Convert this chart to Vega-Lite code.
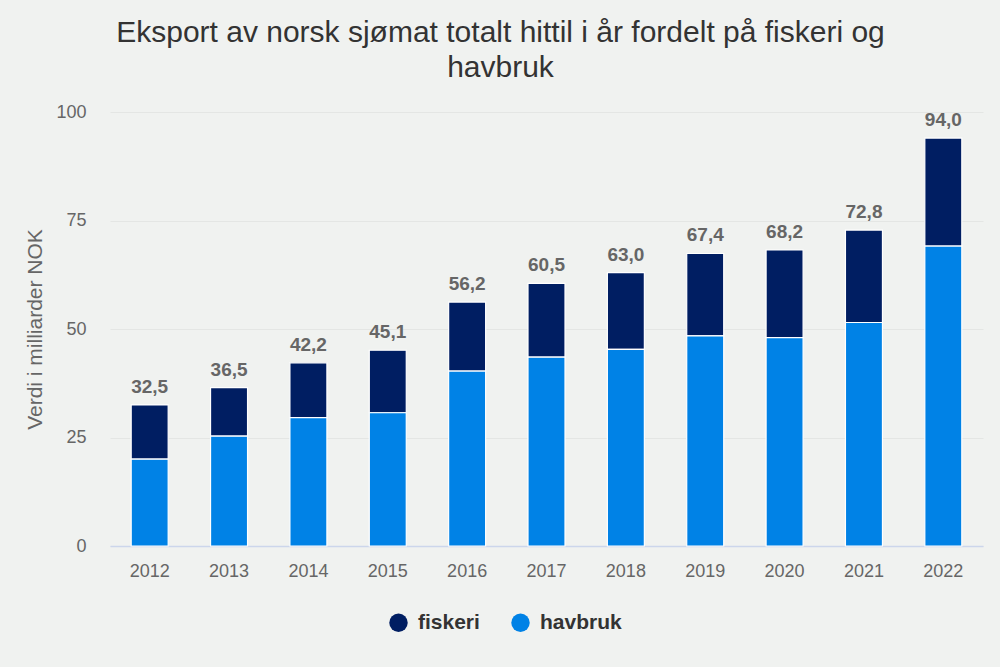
{
  "$schema": "https://vega.github.io/schema/vega-lite/v6.json",
  "autosize": {"type": "none"},
  "width": 873,
  "height": 434,
  "padding": {"left": 110, "top": 112, "right": 17, "bottom": 121},
  "background": "#f0f2f0",
  "title": {
    "text": ["Eksport av norsk sjømat totalt hittil i år fordelt på fiskeri og", "havbruk"],
    "anchor": "middle",
    "dx": -46,
    "offset": 20,
    "font": "Liberation Sans",
    "fontSize": 30,
    "fontWeight": "normal",
    "color": "#333333",
    "lineHeight": 35
  },
  "datasets": {
    "bars": [
      {"year": "2012", "type": "fiskeri", "value": 12.5},
      {"year": "2012", "type": "havbruk", "value": 20.0},
      {"year": "2013", "type": "fiskeri", "value": 11.2},
      {"year": "2013", "type": "havbruk", "value": 25.3},
      {"year": "2014", "type": "fiskeri", "value": 12.6},
      {"year": "2014", "type": "havbruk", "value": 29.6},
      {"year": "2015", "type": "fiskeri", "value": 14.4},
      {"year": "2015", "type": "havbruk", "value": 30.7},
      {"year": "2016", "type": "fiskeri", "value": 15.9},
      {"year": "2016", "type": "havbruk", "value": 40.3},
      {"year": "2017", "type": "fiskeri", "value": 17.0},
      {"year": "2017", "type": "havbruk", "value": 43.5},
      {"year": "2018", "type": "fiskeri", "value": 17.7},
      {"year": "2018", "type": "havbruk", "value": 45.3},
      {"year": "2019", "type": "fiskeri", "value": 19.0},
      {"year": "2019", "type": "havbruk", "value": 48.4},
      {"year": "2020", "type": "fiskeri", "value": 20.2},
      {"year": "2020", "type": "havbruk", "value": 48.0},
      {"year": "2021", "type": "fiskeri", "value": 21.3},
      {"year": "2021", "type": "havbruk", "value": 51.5},
      {"year": "2022", "type": "fiskeri", "value": 24.9},
      {"year": "2022", "type": "havbruk", "value": 69.1}
    ],
    "totals": [
      {"year": "2012", "total": 32.5},
      {"year": "2013", "total": 36.5},
      {"year": "2014", "total": 42.2},
      {"year": "2015", "total": 45.1},
      {"year": "2016", "total": 56.2},
      {"year": "2017", "total": 60.5},
      {"year": "2018", "total": 63.0},
      {"year": "2019", "total": 67.4},
      {"year": "2020", "total": 68.2},
      {"year": "2021", "total": 72.8},
      {"year": "2022", "total": 94.0}
    ]
  },
  "config": {
    "font": "Liberation Sans",
    "locale": {
      "number": {"decimal": ",", "thousands": " ", "grouping": [3], "currency": ["", " kr"]}
    },
    "view": {"stroke": null},
    "axis": {
      "labelFont": "Liberation Sans",
      "titleFont": "Liberation Sans",
      "labelColor": "#666666",
      "titleColor": "#666666",
      "labelFontSize": 18,
      "titleFontWeight": "normal"
    },
    "legend": {
      "labelFont": "Liberation Sans",
      "labelFontSize": 21,
      "labelFontWeight": "bold",
      "labelColor": "#333333"
    }
  },
  "layer": [
    {
      "data": {"name": "bars"},
      "mark": {"type": "bar", "width": 37, "stroke": "#ffffff", "strokeWidth": 1.2},
      "encoding": {
        "x": {
          "field": "year",
          "type": "ordinal",
          "scale": {"paddingInner": 0.53, "paddingOuter": 0.265},
          "axis": {
            "title": null,
            "labelAngle": 0,
            "labelPadding": 16,
            "ticks": false,
            "domainColor": "#ccd6eb",
            "domainWidth": 1.5
          }
        },
        "y": {
          "field": "value",
          "type": "quantitative",
          "stack": "zero",
          "scale": {"domain": [0, 100]},
          "axis": {
            "title": "Verdi i milliarder NOK",
            "titleFontSize": 21,
            "titlePadding": 10,
            "values": [0, 25, 50, 75, 100],
            "domain": false,
            "ticks": false,
            "labelPadding": 24,
            "gridColor": "#e4e6e4"
          }
        },
        "color": {
          "field": "type",
          "type": "nominal",
          "scale": {"domain": ["fiskeri", "havbruk"], "range": ["#001e62", "#0082e6"]},
          "legend": {
            "title": null,
            "orient": "none",
            "legendX": 278,
            "legendY": 500,
            "direction": "horizontal",
            "symbolType": "circle",
            "symbolSize": 340,
            "symbolStrokeWidth": 0,
            "columnPadding": 30,
            "labelOffset": 9
          }
        },
        "order": {"field": "type", "sort": "descending"}
      }
    },
    {
      "data": {"name": "totals"},
      "mark": {
        "type": "text",
        "dy": -18,
        "fontSize": 19,
        "fontWeight": "bold",
        "color": "#666666",
        "font": "Liberation Sans"
      },
      "encoding": {
        "x": {"field": "year", "type": "ordinal"},
        "y": {"field": "total", "type": "quantitative"},
        "text": {"field": "total", "type": "quantitative", "format": ".1f"}
      }
    }
  ]
}
